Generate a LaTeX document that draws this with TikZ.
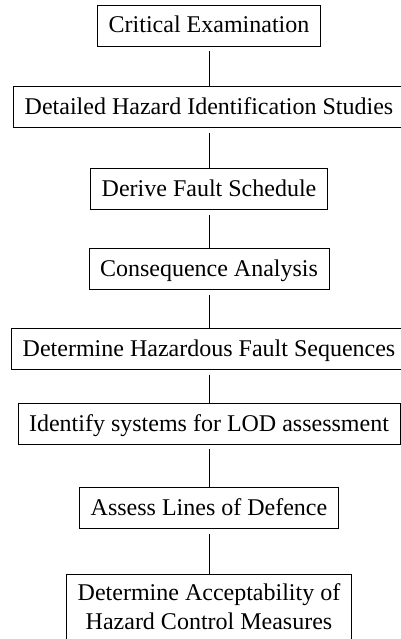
\documentclass[tikz,border=0pt]{standalone}
\usepackage{fontspec}
\setmainfont{Liberation Serif}
\usetikzlibrary{positioning}

\tikzset{
  stage/.style={draw, line width=0.8pt, inner xsep=11pt, inner ysep=9pt,
    text height=19pt, text depth=4pt, font=\fontsize{24}{29}\selectfont},
  stagetwo/.style={draw, line width=0.8pt, inner xsep=11pt, inner ysep=9pt,
    align=center, font=\fontsize{24}{29}\selectfont},
  link/.style={line width=0.8pt, shorten <=5pt}
}

\begin{document}
\begin{tikzpicture}[x=1pt, y=1pt, node distance=40pt]
  \useasboundingbox (0,0) rectangle (400,-639);

  \node[stage] (exam) at (209,-25.5) {Critical Examination};
  \node[stage] (hazid) [below=of exam] {Detailed Hazard Identification Studies};
  \node[stage] (fault) [below=of hazid] {Derive Fault Schedule};
  \node[stage] (conseq) [below=38pt of fault] {Consequence Analysis};
  \node[stage] (seq) [below=38pt of conseq] {Determine Hazardous Fault Sequences};
  \node[stage] (lodsys) [below=33pt of seq] {Identify systems for LOD assessment};
  \node[stage] (lod) [below=43pt of lodsys] {Assess Lines of Defence};
  \node[stagetwo] (accept) [below=45pt of lod] {Determine Acceptability of\\Hazard Control Measures\vphantom{g}};

  \draw[link] (exam) -- (hazid);
  \draw[link] (hazid) -- (fault);
  \draw[link] (fault) -- (conseq);
  \draw[link] (conseq) -- (seq);
  \draw[link] (seq) -- (lodsys);
  \draw[link] (lodsys) -- (lod);
  \draw[link] (lod) -- (accept);
\end{tikzpicture}
\end{document}
